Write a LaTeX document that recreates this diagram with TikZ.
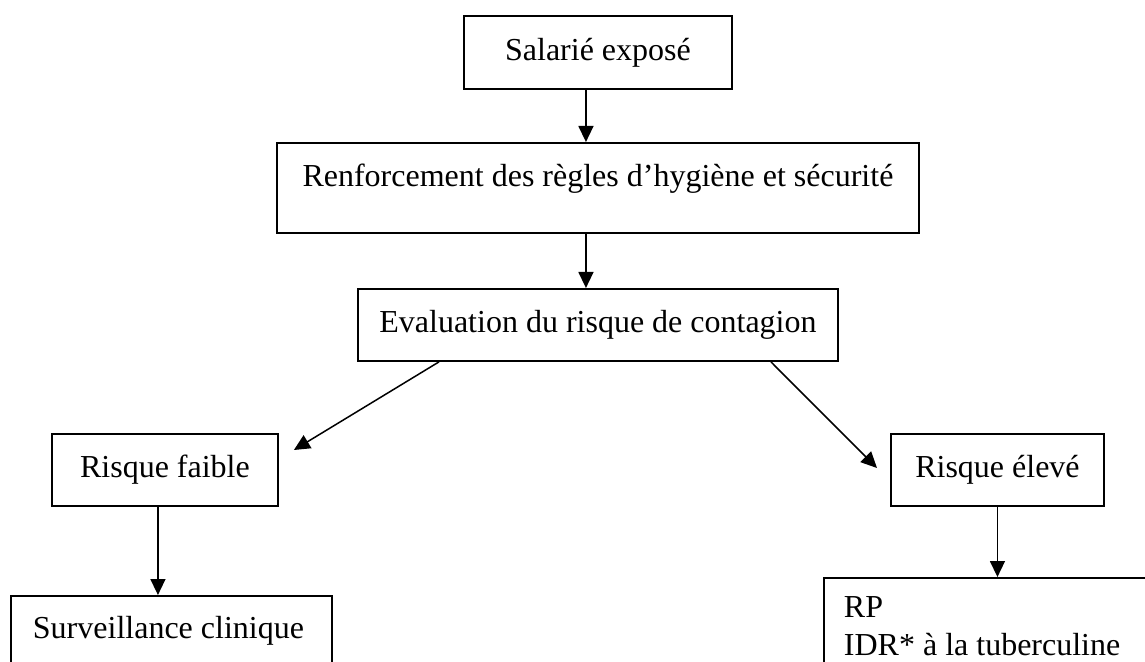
\documentclass[tikz,border=0pt]{standalone}
\usepackage{fontspec}
\setmainfont{Liberation Serif}
\usetikzlibrary{arrows.meta}
\begin{document}
\begin{tikzpicture}[x=0.5pt,y=-0.5pt,
    box/.style={draw, line width=0.95pt, inner sep=0pt, anchor=north west, font=\fontsize{16}{19}\selectfont},
    flow/.style={-{Triangle[length=8pt,width=7.5pt]}, line width=0.75pt}]
    % Fix the frame and cut the last boxes at the lower edge
    \useasboundingbox (0,0) rectangle (1145,662);
    \clip (0,0) rectangle (1145,662);

    % Draw the boxes
    \node[box, minimum width=134pt, minimum height=36.5pt] (salarie) at (463,15) {Salarié exposé};
    \node[box, minimum width=321pt, minimum height=45pt, text depth=13pt] (regles) at (276,142) {Renforcement des règles d’hygiène et sécurité};
    \node[box, minimum width=240pt, minimum height=36pt] (evaluation) at (357,288) {Evaluation du risque de contagion};
    \node[box, minimum width=113pt, minimum height=36pt] (faible) at (51,433) {Risque faible};
    \node[box, minimum width=106.5pt, minimum height=36pt] (eleve) at (890,433) {Risque élevé};
    \node[box, align=flush left, text width=138.5pt, inner xsep=11pt, inner ysep=10pt, text depth=30pt] (clinique) at (10,595) {Surveillance clinique};
    \node[box, align=flush left, text width=158.5pt, inner xsep=10pt, inner ysep=9.5pt] (examens) at (823,577) {RP\\IDR* à la tuberculine};

    % Draw the arrows
    \draw[flow] ([xshift=-6pt]salarie.south) -- ([xshift=-6pt]regles.north);
    \draw[flow] ([xshift=-6pt]regles.south) -- ([xshift=-6pt]evaluation.north);
    \draw[flow] ([xshift=-79.5pt]evaluation.south) -- ([xshift=7.5pt,yshift=-8.5pt]faible.north east);
    \draw[flow] ([xshift=86.5pt]evaluation.south) -- ([xshift=-6.5pt,yshift=-17.5pt]eleve.north west);
    \draw[flow] ([xshift=-3.5pt]faible.south) -- ([xshift=-3.5pt]faible.south |- clinique.north);
    \draw[flow] (eleve.south) -- (eleve.south |- examens.north);
\end{tikzpicture}
\end{document}
